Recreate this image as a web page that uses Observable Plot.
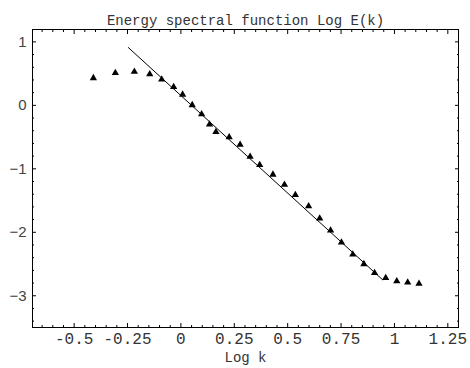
<!DOCTYPE html>
<html>
<head>
<meta charset="utf-8">
<script src="https://cdn.jsdelivr.net/npm/d3@7"></script>
<script src="https://cdn.jsdelivr.net/npm/@observablehq/plot@0.6"></script>
<style>
  body { margin: 0; background: white; }
</style>
</head>
<body>
<div id="chart"></div>
<script>
const logK = [-0.41, -0.307, -0.218, -0.146, -0.090, -0.034, 0.008, 0.053, 0.097, 0.134, 0.164, 0.226, 0.277, 0.324, 0.369, 0.431, 0.485, 0.536, 0.598, 0.650, 0.701, 0.752, 0.805, 0.857, 0.907, 0.959, 1.011, 1.062, 1.115];
const logE = [0.43, 0.51, 0.53, 0.49, 0.41, 0.29, 0.17, 0.005, -0.14, -0.30, -0.42, -0.50, -0.62, -0.81, -0.94, -1.09, -1.25, -1.41, -1.59, -1.78, -1.97, -2.16, -2.35, -2.50, -2.64, -2.72, -2.77, -2.79, -2.81];
const fitK = [-0.246, 0.945];
const fitE = [0.91, -2.75];
const xTicks = [-0.5, -0.25, 0, 0.25, 0.5, 0.75, 1, 1.25];
const yTicks = [-3, -2, -1, 0, 1];
const xMinor = d3.range(-13, 27).map(i => i * 0.05).filter(v => !xTicks.some(t => Math.abs(t - v) < 1e-9));
const yMinor = d3.range(-17, 6).map(i => i * 0.2).filter(v => !yTicks.some(t => Math.abs(t - v) < 1e-9));

const points = logK.map((k, i) => ({k, e: logE[i]}));
const fit = fitK.map((k, i) => ({k, e: fitE[i]}));

const mono = "'Liberation Mono', 'Courier New', monospace";
const sans = "'Liberation Sans', Arial, sans-serif";
const yFmt = d => d < 0 ? "\u2212" + Math.abs(d) : String(d);

const plot = Plot.plot({
  width: 470,
  height: 368,
  marginLeft: 32,
  marginRight: 12,
  marginTop: 29,
  marginBottom: 41,
  x: {domain: [-0.695, 1.30]},
  y: {domain: [-3.5, 1.195]},
  style: {background: "white", color: "black"},
  marks: [
    Plot.axisX({anchor: "bottom", ticks: xTicks, tickSize: -4, tickFormat: () => "", label: null}),
    Plot.axisX({anchor: "top", ticks: xTicks, tickSize: -4, tickFormat: () => "", label: null}),
    Plot.axisX({anchor: "bottom", ticks: xMinor, tickSize: -2, tickFormat: () => "", label: null}),
    Plot.axisX({anchor: "top", ticks: xMinor, tickSize: -2, tickFormat: () => "", label: null}),
    Plot.axisY({anchor: "left", ticks: yTicks, tickSize: -4, tickFormat: () => "", label: null}),
    Plot.axisY({anchor: "right", ticks: yTicks, tickSize: -4, tickFormat: () => "", label: null}),
    Plot.axisY({anchor: "left", ticks: yMinor, tickSize: -2, tickFormat: () => "", label: null}),
    Plot.axisY({anchor: "right", ticks: yMinor, tickSize: -2, tickFormat: () => "", label: null}),
    Plot.axisX({anchor: "bottom", ticks: xTicks, tickSize: 0, tickPadding: 5, tickFormat: d => String(d), label: null, fontFamily: mono, fontSize: 16, fill: "#333"}),
    Plot.axisY({anchor: "left", ticks: yTicks, tickSize: 0, tickPadding: 6, tickFormat: yFmt, label: null, fontFamily: sans, fontSize: 15, fill: "#444"}),
    Plot.frame({stroke: "black", strokeWidth: 1}),
    Plot.line(fit, {x: "k", y: "e", stroke: "black", strokeWidth: 1}),
    Plot.dot(points, {x: "k", y: "e", symbol: "triangle", r: 2.7, fill: "black", stroke: "none"}),
    Plot.text(["Energy spectral function Log E(k)"], {frameAnchor: "top", dy: -14, fontFamily: mono, fontSize: 14, fill: "#333"}),
    Plot.text(["Log k"], {frameAnchor: "bottom", dy: 34, fontFamily: mono, fontSize: 14, fill: "#333"})
  ]
});
document.getElementById("chart").appendChild(plot);
</script>
</body>
</html>
